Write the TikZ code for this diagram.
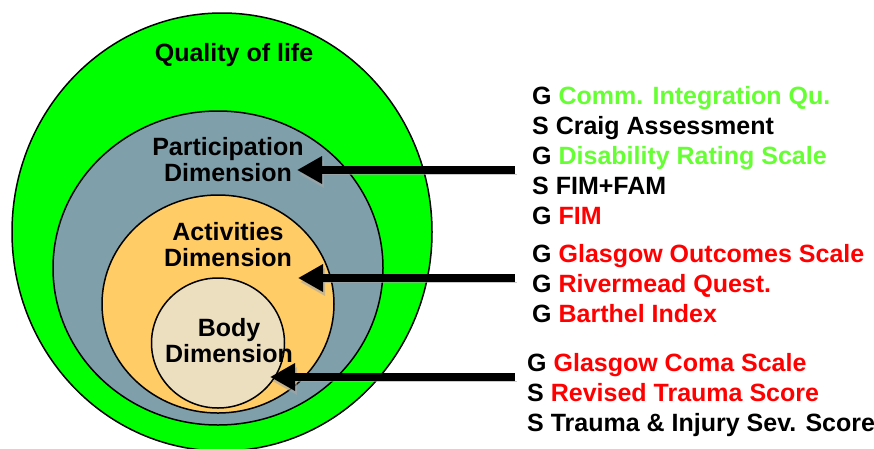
\documentclass[tikz,border=0pt]{standalone}
\usepackage{fontspec}
\setmainfont{Liberation Sans}
\usetikzlibrary{arrows.meta, shapes.geometric}
\definecolor{qolgreen}{RGB}{0,255,0}
\definecolor{partgrey}{RGB}{127,159,170}
\definecolor{actorange}{RGB}{255,204,102}
\definecolor{bodybeige}{RGB}{236,223,192}
\definecolor{listgreen}{RGB}{102,255,51}
\definecolor{listred}{RGB}{255,0,0}
\tikzset{
    zone/.style={ellipse, draw=black, line width=1.5pt, inner sep=0pt},
    dimlabel/.style={font=\fontsize{25}{26}\selectfont\bfseries, align=center, inner sep=0pt},
    item/.style={anchor=base west, inner sep=0pt, font=\fontsize{25}{30}\selectfont\bfseries},
    pointer/.style={line width=8pt, -{Triangle[length=25pt,width=26pt]},
        preaction={draw=black!35, opacity=0.6, transform canvas={shift={(2pt,-4pt)}}}}
}
\begin{document}
\begin{tikzpicture}[x=1pt, y=-1pt]
        \useasboundingbox (0,0) rectangle (874,448);
        % Nested dimensions
        \node[zone, fill=qolgreen, minimum width=420pt, minimum height=438pt] (QoL) at (222,232) {};
        \node[zone, fill=partgrey, minimum width=330pt, minimum height=314pt] (Part) at (218,268) {};
        \node[zone, fill=actorange, minimum width=232pt, minimum height=218pt] (Act) at (218,304) {};
        \node[zone, fill=bodybeige, minimum width=133pt, minimum height=130pt] (Body) at (218,343) {};
        
        % Labels
        \node[dimlabel] (QoLText) at (234,55) {Quality of life};
        \node[dimlabel] (PartText) at (228,160) {Participation\\Dimension};
        \node[dimlabel] (ActText) at (228,245) {Activities\\Dimension};
        \node[dimlabel] (BodyText) at (229,341) {Body\\Dimension};
        
        % Participation measures
        \node[item] (CIQ) at (532,104) {G \textcolor{listgreen}{Comm. Integration Qu.}};
        \node[item] (Craig) at (532,134) {S Craig Assessment};
        \node[item] (DRS) at (532,164) {G \textcolor{listgreen}{Disability Rating Scale}};
        \node[item] (FimFam) at (532,194) {S FIM+FAM};
        \node[item] (Fim) at (532,224) {G \textcolor{listred}{FIM}};
        
        % Activities measures
        \node[item] (GOS) at (532,262) {G \textcolor{listred}{Glasgow Outcomes Scale}};
        \node[item] (Rivermead) at (532,292) {G \textcolor{listred}{Rivermead Quest.}};
        \node[item] (Barthel) at (532,322) {G \textcolor{listred}{Barthel Index}};
        
        % Body measures
        \node[item] (GCS) at (527,371) {G \textcolor{listred}{Glasgow Coma Scale}};
        \node[item] (RTS) at (527,401) {S \textcolor{listred}{Revised Trauma Score}};
        \node[item] (TRISS) at (527,431) {S Trauma \& Injury Sev. Score};
        
        % Arrow ends
        \coordinate (PartFrom) at (515,170);
        \coordinate (PartTo) at (297,170);
        \coordinate (ActFrom) at (515,278);
        \coordinate (ActTo) at (298,278);
        \coordinate (BodyFrom) at (515,377);
        \coordinate (BodyTo) at (270,377);
        
        % Connections
        \draw[pointer] (PartFrom) -- (PartTo);
        \draw[pointer] (ActFrom) -- (ActTo);
        \draw[pointer] (BodyFrom) -- (BodyTo);
\end{tikzpicture}
\end{document}
